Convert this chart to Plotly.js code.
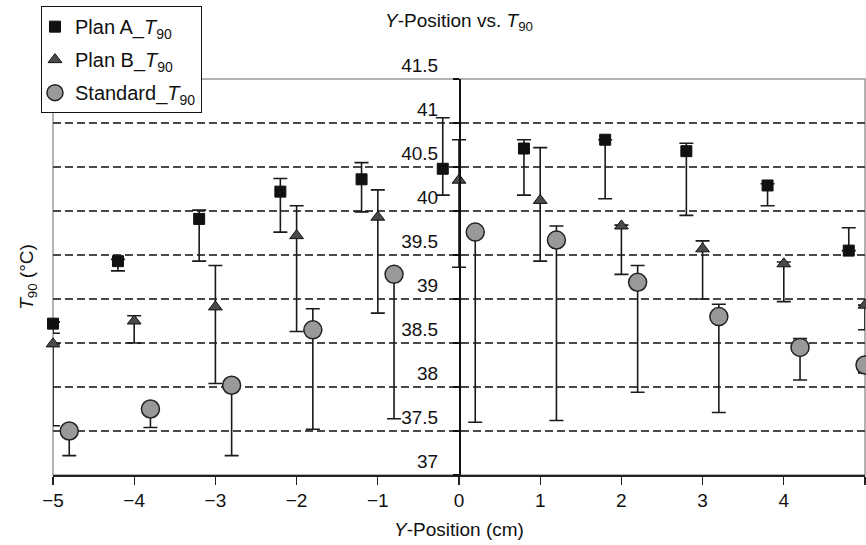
<!DOCTYPE html>
<html>
<head>
<meta charset="utf-8">
<script src="https://cdn.plot.ly/plotly-3.0.1.min.js"></script>
<style>html,body{margin:0;padding:0;background:#fff;}#chart{width:866px;height:545px;}</style>
</head>
<body>
<div id="chart"></div>
<script>
// Plan A
const xA = [-5, -4.2, -3.2, -2.2, -1.2, -0.2, 0.8, 1.8, 2.8, 3.8, 4.8];
const yA = [38.72, 39.43, 39.91, 40.22, 40.36, 40.48, 40.71, 40.81, 40.68, 40.29, 39.55];
const plusA = [0.02, 0.02, 0.10, 0.15, 0.19, 0.58, 0.10, 0.0, 0.09, 0.02, 0.26];
const minusA = [0.11, 0.11, 0.48, 0.46, 0.37, 0.30, 0.53, 0.67, 0.73, 0.23, 0.0];
// Plan B
const xB = [-5, -4, -3, -2, -1, 0, 1, 2, 3, 4, 5];
const yB = [38.49, 38.75, 38.91, 39.72, 39.93, 40.35, 40.12, 39.83, 39.57, 39.40, 38.93];
const plusB = [0.0, 0.06, 0.47, 0.34, 0.31, 0.46, 0.60, 0.01, 0.09, 0.02, 0.0];
const minusB = [0.93, 0.25, 0.87, 1.09, 1.09, 0.99, 0.69, 0.55, 0.57, 0.43, 0.28];
// Standard
const xC = [-4.8, -3.8, -2.8, -1.8, -0.8, 0.2, 1.2, 2.2, 3.2, 4.2, 5.0];
const yC = [37.50, 37.75, 38.02, 38.65, 39.28, 39.76, 39.67, 39.19, 38.80, 38.45, 38.25];
const plusC = [0.02, 0.0, 0.0, 0.24, 0.0, 0.0, 0.16, 0.19, 0.14, 0.10, 0.0];
const minusC = [0.28, 0.21, 0.80, 1.13, 1.64, 2.16, 2.05, 1.25, 1.09, 0.37, 0.09];

const names = ['Plan A_<i>T</i><sub>90</sub>', 'Plan B_<i>T</i><sub>90</sub>', 'Standard_<i>T</i><sub>90</sub>'];
const xTicks = [-5, -4, -3, -2, -1, 0, 1, 2, 3, 4, 5];
const yTicks = [37, 37.5, 38, 38.5, 39, 39.5, 40, 40.5, 41, 41.5];

const FONT = 'Liberation Sans, Arial, Helvetica, sans-serif';
const FS = 19;
function err(p, m) {
  return {type: 'data', symmetric: false, array: p, arrayminus: m, color: '#1a1a1a', thickness: 1.6, width: 7};
}
const traces = [
  {x: xA, y: yA, name: names[0], legendgroup: 'a', type: 'scatter', mode: 'markers', cliponaxis: false,
   marker: {symbol: 'square', size: 11, color: '#111', line: {color: '#111', width: 1}},
   error_y: err(plusA, minusA)},
  {x: xB, y: yB, name: names[1], legendgroup: 'b', type: 'scatter', mode: 'markers', cliponaxis: false,
   marker: {symbol: 'triangle-up', size: 12, color: '#4a4a4a', line: {color: '#111', width: 1}},
   error_y: err(plusB, minusB)},
  {x: xC, y: yC, name: names[2], legendgroup: 'c', type: 'scatter', mode: 'markers', cliponaxis: false,
   marker: {symbol: 'circle', size: 18, color: '#999', line: {color: '#222', width: 1.5}},
   error_y: err(plusC, minusC)}
];

const layout = {
  width: 866, height: 545,
  margin: {l: 53, r: 1, t: 79, b: 70},
  paper_bgcolor: '#fff', plot_bgcolor: '#fff',
  font: {family: FONT, size: FS, color: '#111'},
  showlegend: true,
  title: {text: '<i>Y</i>-Position vs. <i>T</i><sub>90</sub>', font: {size: FS, family: FONT, color: '#111'},
          xref: 'paper', x: 0.5, xanchor: 'center', yref: 'container', y: 0.963, yanchor: 'middle'},
  xaxis: {
    range: [-5, 5], tickvals: xTicks, showgrid: false, zeroline: false,
    showline: true, linecolor: '#222', linewidth: 1.5,
    ticks: 'outside', ticklen: 8, tickcolor: '#222', tickwidth: 1.2,
    tickfont: {size: FS, family: FONT, color: '#111'}, ticklabelstandoff: 0,
    title: {text: '<i>Y</i>-Position (cm)', font: {size: FS, family: FONT, color: '#111'}, standoff: 12}
  },
  yaxis: {
    range: [37, 41.5], tickvals: yTicks, anchor: 'free', position: 0.5,
    showgrid: true, gridcolor: '#4a4a4a', gridwidth: 1.2, griddash: '8px,4px', zeroline: false,
    showline: true, linecolor: '#111', linewidth: 1.5,
    ticks: 'outside', ticklen: 6, tickcolor: '#111', tickwidth: 1.2,
    tickfont: {size: FS, family: FONT, color: '#111'}, ticklabelshift: -14, ticklabelstandoff: 11
  },
  shapes: [{type: 'rect', xref: 'paper', yref: 'paper', x0: 0, x1: 1, y0: 0, y1: 1,
            line: {color: '#999', width: 1.5}, layer: 'between'}],
  annotations: [{text: '<i>T</i><sub>90</sub> (°C)', xref: 'paper', yref: 'paper', x: -0.031, y: 0.5,
                 xanchor: 'center', yanchor: 'middle', textangle: -90, showarrow: false,
                 font: {size: FS, family: FONT, color: '#111'}}],
  legend: {x: -0.0148, xanchor: 'left', y: 1.184, yanchor: 'top', bgcolor: '#fff',
           bordercolor: '#111', borderwidth: 1, font: {size: 20, family: FONT, color: '#111'},
           itemwidth: 30, traceorder: 'grouped', tracegroupgap: 4, indentation: -7}
};

Plotly.newPlot('chart', traces, layout, {displayModeBar: false, staticPlot: true});
</script>
</body>
</html>
